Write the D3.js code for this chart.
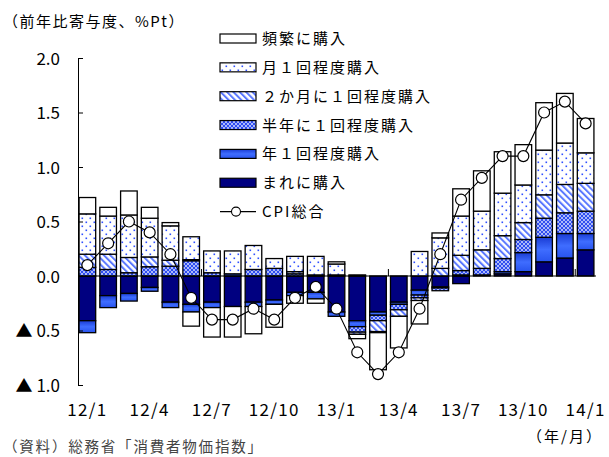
<!DOCTYPE html>
<html><head><meta charset="utf-8">
<script src="https://cdn.jsdelivr.net/npm/d3@7"></script>
<style>
body{margin:0;background:#fff}
svg{display:block;font-family:"Noto Sans CJK JP","Noto Sans",sans-serif}
</style></head><body>
<svg id="chart" width="609" height="457"></svg>
<script>
// 購入頻度別の寄与度（前年比、%Pt）と CPI 総合
const months = ["12/1","12/2","12/3","12/4","12/5","12/6","12/7","12/8","12/9","12/10","12/11","12/12",
  "13/1","13/2","13/3","13/4","13/5","13/6","13/7","13/8","13/9","13/10","13/11","13/12","14/1"];
const tickMonths = ["12/1","12/4","12/7","12/10","13/1","13/4","13/7","13/10","14/1"];
const yTicks = [-1, -0.5, 0, 0.5, 1, 1.5, 2];

const rare      = [-0.41,-0.18,-0.16,-0.105,-0.24,-0.26,-0.24,-0.28,-0.24,-0.22,-0.15,-0.15,-0.33,-0.41,-0.33,-0.24,-0.13,-0.10,-0.07,0,0.02,0.04,0.13,0.165,0.24];
const yearly    = [-0.11,-0.11,-0.07,-0.035,-0.05,-0.07,-0.05,0.02,-0.04,-0.04,-0.03,-0.06,-0.04,-0.055,-0.03,-0.02,-0.045,-0.01,0.01,0.01,0.02,0.175,0.225,0.225,0.15];
const halfYear  = [0.08,0.06,0.03,0.085,0.09,0.14,0.03,0,0.06,0.07,0.02,0.01,0.01,-0.05,-0.05,-0.05,-0.025,-0.025,0.04,0.06,0.12,0.12,0.175,0.19,0.205];
const bimonthly = [0.12,0.14,0.14,0.09,0.055,0.01,0,0,0,0,0.02,0,0,-0.02,-0.10,-0.06,-0.025,0.07,0.14,0.17,0.21,0.155,0.215,0.26,0.255];
const monthly   = [0.37,0.35,0.39,0.355,0.315,0.21,0.20,0.21,0.22,0.09,0.14,0.17,0.10,0.01,-0.01,0,0.225,0.28,0.36,0.355,0.39,0.345,0.41,0.38,0.28];
const frequent  = [0.15,0.08,0.22,0.10,0.03,-0.13,-0.27,-0.28,-0.25,-0.21,-0.07,-0.04,0.02,-0.04,-0.34,-0.29,-0.215,0.045,0.25,0.37,0.38,0.37,0.435,0.455,0.315];
const cpi       = [0.1,0.3,0.5,0.4,0.2,-0.2,-0.4,-0.4,-0.3,-0.4,-0.2,-0.1,-0.3,-0.7,-0.9,-0.7,-0.3,0.2,0.7,0.9,1.1,1.1,1.5,1.6,1.4];

const seriesKeys   = ["rare","yearly","halfYear","bimonthly","monthly","frequent"];
const seriesLabels = ["まれに購入","年１回程度購入","半年に１回程度購入","２か月に１回程度購入","月１回程度購入","頻繁に購入"];
const seriesValues = [rare, yearly, halfYear, bimonthly, monthly, frequent];

const svg = d3.select("#chart");
const defs = svg.append("defs");

// fills
const grad = defs.append("linearGradient").attr("id","fYear").attr("x1",0).attr("y1",0).attr("x2",0).attr("y2",1);
grad.append("stop").attr("offset","0%").attr("stop-color","#1a3cd4");
grad.append("stop").attr("offset","50%").attr("stop-color","#3f6dff");
grad.append("stop").attr("offset","100%").attr("stop-color","#2853ee");

const pHalf = defs.append("pattern").attr("id","fHalf").attr("patternUnits","userSpaceOnUse")
  .attr("width",4).attr("height",4);
pHalf.append("rect").attr("width",4).attr("height",4).attr("fill","#2f4df0");
pHalf.append("path").attr("d","M0,0L4,4M4,0L0,4").attr("stroke","#dfe6ff").attr("stroke-width",0.7);

const pBi = defs.append("pattern").attr("id","fBi").attr("patternUnits","userSpaceOnUse")
  .attr("width",4.5).attr("height",4.5).attr("patternTransform","rotate(-45)");
pBi.append("rect").attr("width",4.5).attr("height",4.5).attr("fill","#fff");
pBi.append("rect").attr("width",2).attr("height",4.5).attr("fill","#5a78ff");

const pMon = defs.append("pattern").attr("id","fMon").attr("patternUnits","userSpaceOnUse")
  .attr("width",8).attr("height",8);
pMon.append("rect").attr("width",8).attr("height",8).attr("fill","#fff");
pMon.append("rect").attr("x",1.5).attr("y",1.5).attr("width",1.6).attr("height",1.6).attr("fill","#2f50ff");
pMon.append("rect").attr("x",5.5).attr("y",5.5).attr("width",1.6).attr("height",1.6).attr("fill","#2f50ff");

const fills = {rare:"#000080", yearly:"url(#fYear)", halfYear:"url(#fHalf)", bimonthly:"url(#fBi)", monthly:"url(#fMon)", frequent:"#ffffff"};

// scales
const x = d3.scaleBand().domain(months).range([77, 596]).paddingInner(0.2).paddingOuter(0.1);
const y = d3.scaleLinear().domain([-1, 2]).range([385, 58]);

const rows = months.map((m, i) => {
  const r = {month: m};
  seriesKeys.forEach((k, j) => r[k] = seriesValues[j][i]);
  return r;
});
const stacked = d3.stack().keys(seriesKeys).offset(d3.stackOffsetDiverging)(rows);

// bars
svg.append("g").selectAll("g").data(stacked).join("g")
  .attr("fill", d => fills[d.key])
  .selectAll("rect").data(d => d.filter(s => Math.abs(s[1] - s[0]) > 1e-9)).join("rect")
  .attr("x", d => x(d.data.month))
  .attr("width", x.bandwidth())
  .attr("y", d => y(Math.max(d[0], d[1])))
  .attr("height", d => Math.abs(y(d[0]) - y(d[1])))
  .attr("stroke", "#000").attr("stroke-width", 1.3);

// zero line and category ticks
svg.append("line").attr("x1", 78).attr("x2", 596).attr("y1", y(0)).attr("y2", y(0))
  .attr("stroke", "#000").attr("stroke-width", 1.2);
const step = x.step();
[6, 15, 24].forEach(b => {
  const bx = 77 + b * step;
  svg.append("line").attr("x1", bx).attr("x2", bx).attr("y1", y(0)).attr("y2", y(0) - 7)
    .attr("stroke", "#000").attr("stroke-width", 1);
});

// y axis
const yAxis = svg.append("g").attr("transform", "translate(78,0)")
  .call(d3.axisRight(y).tickValues(yTicks).tickSize(5).tickSizeOuter(0).tickFormat(""));
yAxis.selectAll("path,line").attr("stroke", "#000").attr("stroke-width", 1);

svg.append("g").selectAll("text").data(yTicks).join("text")
  .attr("x", 60).attr("y", d => y(d) + 6.5)
  .attr("text-anchor", "end").attr("font-size", 17).attr("fill", "#000")
  .text(d => d < 0 ? "▲ " + Math.abs(d).toFixed(1) : d.toFixed(1));

// x labels
svg.append("g").selectAll("text").data(tickMonths).join("text")
  .attr("x", d => x(d) + x.bandwidth() / 2).attr("y", 416)
  .attr("text-anchor", "middle").attr("font-size", 17).attr("letter-spacing", 1.3)
  .attr("fill", "#000").text(d => d);

// CPI line
const line = d3.line().x((d, i) => x(months[i]) + x.bandwidth() / 2).y(d => y(d));
svg.append("path").datum(cpi).attr("d", line).attr("fill", "none").attr("stroke", "#000").attr("stroke-width", 1.1);
svg.append("g").selectAll("circle").data(cpi).join("circle")
  .attr("cx", (d, i) => x(months[i]) + x.bandwidth() / 2).attr("cy", d => y(d)).attr("r", 5.5)
  .attr("fill", "#fff").attr("stroke", "#000").attr("stroke-width", 1.2);

// legend
const legendItems = seriesKeys.map((k, j) => ({key: k, label: seriesLabels[j]})).reverse();
legendItems.push({key: "cpi", label: "CPI総合"});
const lg = svg.append("g");
legendItems.forEach((it, i) => {
  const cy = 38.5 + i * 28.85;
  if (it.key === "cpi") {
    lg.append("line").attr("x1", 220).attr("x2", 256).attr("y1", cy).attr("y2", cy).attr("stroke", "#000").attr("stroke-width", 1.1);
    lg.append("circle").attr("cx", 236).attr("cy", cy).attr("r", 4.5).attr("fill", "#fff").attr("stroke", "#000").attr("stroke-width", 1.1);
  } else {
    lg.append("rect").attr("x", 220).attr("y", cy - 4.5).attr("width", 36).attr("height", 9)
      .attr("fill", fills[it.key]).attr("stroke", "#000").attr("stroke-width", 1.2);
  }
  lg.append("text").attr("x", 262).attr("y", cy + 5.5).attr("font-size", 15).attr("letter-spacing", 2)
    .attr("fill", "#000").text(it.label);
});

// titles
svg.append("text").attr("x", 3).attr("y", 27).attr("font-size", 15).attr("letter-spacing", 1.5)
  .attr("fill", "#000").text("（前年比寄与度、%Pt）");
svg.append("text").attr("x", 603).attr("y", 442).attr("text-anchor", "end").attr("font-size", 15).attr("letter-spacing", 2)
  .attr("fill", "#000").text("（年/月）");
svg.append("text").attr("x", 3).attr("y", 452).attr("font-size", 14.5).attr("letter-spacing", 1.8)
  .attr("fill", "#444").text("（資料）総務省「消費者物価指数」");
</script>
</body></html>
